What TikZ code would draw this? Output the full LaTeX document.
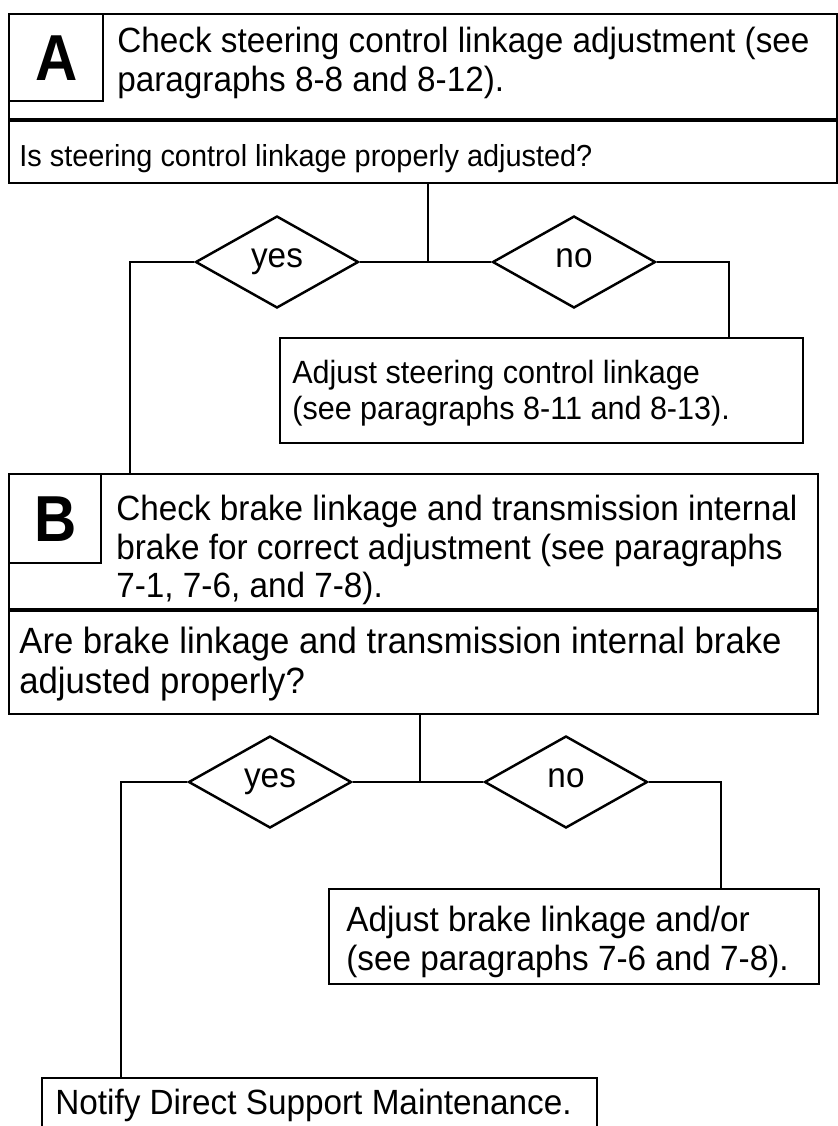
\documentclass[tikz,border=0pt]{standalone}
\usepackage{fontspec}
\setmainfont{Liberation Sans}
\usetikzlibrary{shapes.geometric}

\tikzset{
  box/.style={draw, rectangle, line width=1.4pt, inner sep=0pt, anchor=north west},
  says/.style={anchor=north west, inner sep=0pt, align=left},
  tag/.style={font=\fontsize{37}{37}\selectfont\addfontfeature{FakeStretch=0.9}\bfseries},
  pick/.style={draw, diamond, line width=1.4pt, inner sep=0pt,
    minimum width=3.26cm, minimum height=1.84cm, text height=0.72em, text depth=0.1em},
  wire/.style={line width=1.4pt},
  split/.style={line width=2.8pt},
  big/.style={font=\fontsize{20.8}{22.6}\selectfont\addfontfeature{FakeStretch=0.95}},
  mid/.style={font=\fontsize{18.3}{20.4}\selectfont\addfontfeature{FakeStretch=0.95}},
  small/.style={font=\fontsize{17.3}{19.4}\selectfont\addfontfeature{FakeStretch=0.95}}
}

\begin{document}
\begin{tikzpicture}[x=0.02cm,y=-0.02cm,
  every node/.append style={font=\fontsize{19.95}{21.8}\selectfont\addfontfeature{FakeStretch=0.95}}]
\useasboundingbox (0,0) rectangle (838,1126);
\clip (0,0) rectangle (838,1126);

% step A
\node[box, minimum width=16.56cm, minimum height=2.14cm] (stepA) at (8,13) {};
\node[box, minimum width=1.88cm, minimum height=1.74cm, tag] (tagA) at (8,13) {A};
\node[says] (textA) at (117,27)
  {Check steering control linkage adjustment (see\\paragraphs 8-8 and 8-12).};
\node[box, minimum width=16.56cm, minimum height=1.24cm] (askA) at (8,120) {};
\draw[split] (askA.north west) -- (askA.north east);
\node[says, small] at (19,144) {Is steering control linkage properly adjusted?};

\node[pick] (yesA) at (277,262) {yes};
\node[pick] (noA) at (574,262) {no};
\coordinate (forkA) at (428,262);
\coordinate (leftA) at (130,262);
\coordinate (rightA) at (729,262);

\node[box, minimum width=10.46cm, minimum height=2.1cm] (fixA) at (279,337) {};
\node[says, mid] at (292,360)
  {Adjust steering control linkage\\(see paragraphs 8-11 and 8-13).};

\draw[wire] (askA.south -| forkA) -- (forkA);
\draw[wire] (yesA.east) -- (noA.west);
\draw[wire] (noA.east) -- (rightA) -- (rightA |- fixA.north);

% step B
\node[box, minimum width=16.18cm, minimum height=2.74cm] (stepB) at (8,473) {};
\node[box, minimum width=1.84cm, minimum height=1.78cm, tag] (tagB) at (8,473) {B};
\node[says] (textB) at (116,495)
  {Check brake linkage and transmission internal\\brake for correct adjustment (see paragraphs\\7-1, 7-6, and 7-8).};
\node[box, minimum width=16.18cm, minimum height=2.06cm] (askB) at (8,610) {};
\draw[split] (askB.north west) -- (askB.north east);
\node[says, big] at (19,627)
  {Are brake linkage and transmission internal brake\\adjusted properly?};

\draw[wire] (yesA.west) -- (leftA) -- (leftA |- stepB.north);

\node[pick] (yesB) at (270,782) {yes};
\node[pick] (noB) at (566,782) {no};
\coordinate (forkB) at (420,782);
\coordinate (leftB) at (121,782);
\coordinate (rightB) at (721,782);

\node[box, minimum width=9.8cm, minimum height=1.9cm] (fixB) at (328,888) {};
\node[says] at (346,906)
  {Adjust brake linkage and/or\\(see paragraphs 7-6 and 7-8).};

\node[box, minimum width=11.1cm, minimum height=1.4cm] (notify) at (41,1077) {};
\node[says] at (55,1089) {Notify Direct Support Maintenance.};

\draw[wire] (askB.south -| forkB) -- (forkB);
\draw[wire] (yesB.east) -- (noB.west);
\draw[wire] (noB.east) -- (rightB) -- (rightB |- fixB.north);
\draw[wire] (yesB.west) -- (leftB) -- (leftB |- notify.north);
\end{tikzpicture}
\end{document}
